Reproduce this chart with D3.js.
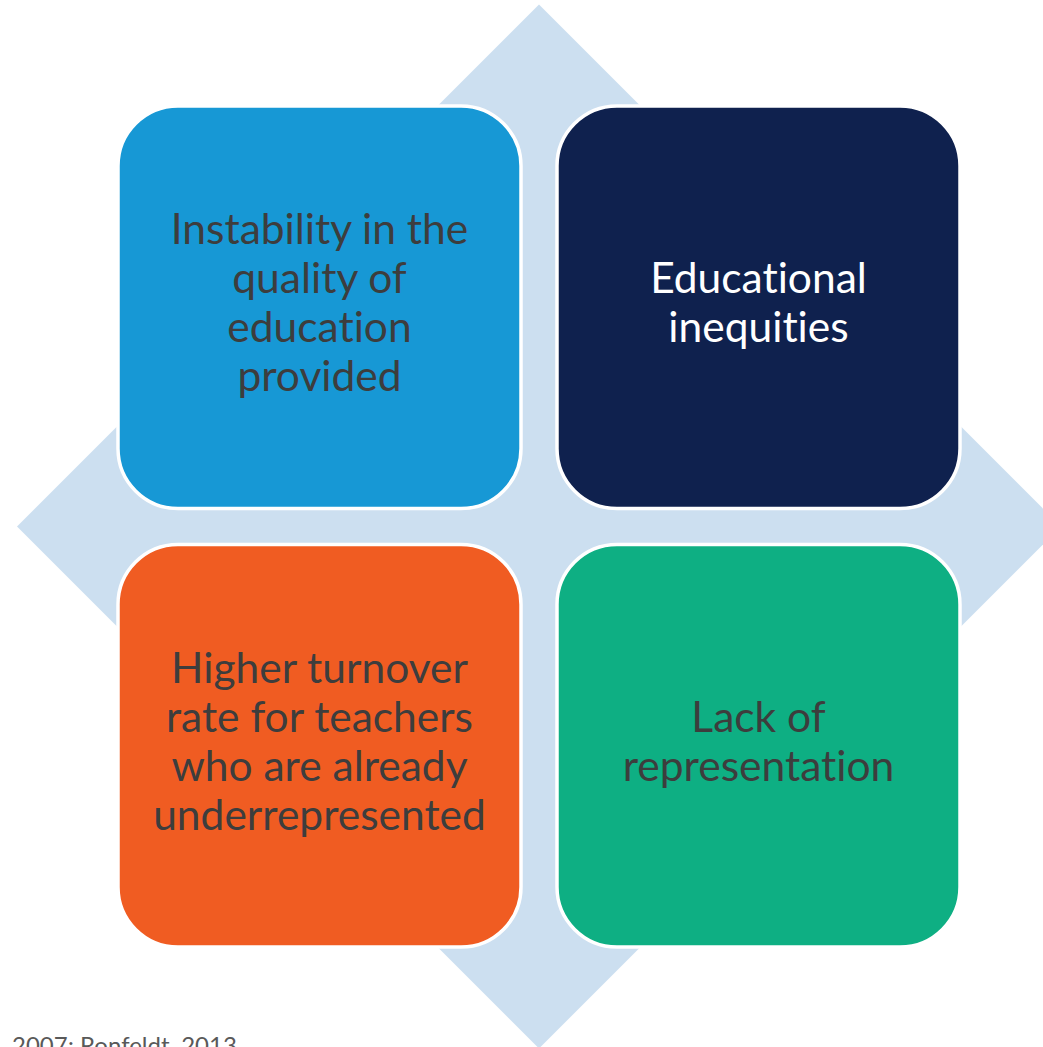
<!DOCTYPE html>
<html>
<head>
<meta charset="utf-8">
<script src="https://cdn.jsdelivr.net/npm/d3@7"></script>
<style>
  html, body { margin: 0; padding: 0; background: #ffffff; }
  svg { display: block; }
  text { font-variant-ligatures: none; }
</style>
</head>
<body>
<script>
// Four factors arranged in a 2x2 grid over a diamond backdrop
const labels = [
  ["Instability in the", "quality of", "education", "provided"],
  ["Educational", "inequities"],
  ["Higher turnover", "rate for teachers", "who are already", "underrepresented"],
  ["Lack of", "representation"]
];
const cols = [0, 1, 0, 1];
const rows = [0, 0, 1, 1];
const fills = ["#1798d5", "#0f214e", "#f05c22", "#0eaf83"];
const textColors = ["#3d3d3d", "#ffffff", "#3d3d3d", "#3d3d3d"];
const footnote = "2007; Ronfeldt, 2013";

const W = 1043, H = 1047;
const svg = d3.select("body").append("svg")
  .attr("width", W).attr("height", H);

const x = d3.scaleBand().domain([0, 1]).range([118, 960]).paddingInner(0.082);
const y = d3.scaleBand().domain([0, 1]).range([106, 947]).paddingInner(0.082);

const cx = (x.range()[0] + x.range()[1]) / 2;
const cy = (y.range()[0] + y.range()[1]) / 2;
const half = 522;

// diamond backdrop
svg.append("polygon")
  .attr("points", [[cx, cy - half], [cx + half, cy], [cx, cy + half], [cx - half, cy]].map(p => p.join(",")).join(" "))
  .attr("fill", "#ccdff0");

const data = labels.map((l, i) => ({ lines: l, col: cols[i], row: rows[i], fill: fills[i], tc: textColors[i] }));

const g = svg.selectAll("g.box").data(data).join("g").attr("class", "box");

g.append("rect")
  .attr("x", d => x(d.col))
  .attr("y", d => y(d.row))
  .attr("width", x.bandwidth())
  .attr("height", y.bandwidth())
  .attr("rx", 60).attr("ry", 60)
  .attr("fill", d => d.fill)
  .attr("stroke", "#ffffff")
  .attr("stroke-width", 3.5);

const lineH = 49;
g.each(function(d) {
  const bx = x(d.col) + x.bandwidth() / 2;
  const by = y(d.row) + y.bandwidth() / 2 + 10.5;
  const n = d.lines.length;
  d3.select(this).selectAll("text").data(d.lines).join("text")
    .attr("x", bx)
    .attr("y", (t, i) => by + (i - (n - 1) / 2) * lineH)
    .attr("text-anchor", "middle")
    .attr("font-family", "Lato, 'Open Sans', sans-serif")
    .attr("font-size", 42.5)
    .attr("fill", d.tc)
    .text(t => t);
});

svg.append("text")
  .attr("x", 12).attr("y", 1054)
  .attr("font-family", "Lato, 'Open Sans', sans-serif")
  .attr("font-size", 24)
  .attr("fill", "#595959")
  .text(footnote);
</script>
</body>
</html>
